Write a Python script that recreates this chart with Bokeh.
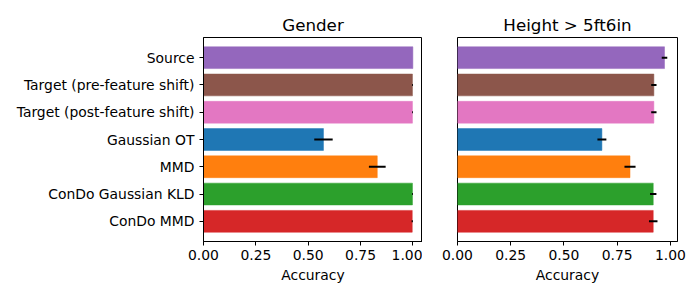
from bokeh.plotting import figure
from bokeh.layouts import row
from bokeh.models import FactorRange, FixedTicker, NumeralTickFormatter, Range1d, ColumnDataSource
from bokeh.embed import file_html
from bokeh.resources import INLINE

methods = ["Source", "Target (pre-feature shift)", "Target (post-feature shift)",
           "Gaussian OT", "MMD", "ConDo Gaussian KLD", "ConDo MMD"]
colors = ["#9467bd", "#8c564b", "#e377c2", "#1f77b4", "#ff7f0e", "#2ca02c", "#d62728"]

gender_acc = [1.0, 0.998, 0.998, 0.573, 0.83, 0.998, 0.997]
gender_err = [0.0, 0.002, 0.002, 0.044, 0.04, 0.002, 0.003]

height_acc = [0.972, 0.922, 0.922, 0.678, 0.81, 0.919, 0.919]
height_err = [0.013, 0.0125, 0.0125, 0.021, 0.026, 0.015, 0.02]

titles = ["Gender", "Height > 5ft6in"]
xmaxes = [1.046, 1.033]
ticks = [0.0, 0.25, 0.5, 0.75, 1.0]

FONT = "DejaVu Sans"

def make(title, acc, err, xmax, show_y, ml, mr):
    src = ColumnDataSource(dict(m=methods, acc=acc, c=colors,
                                lo=[a - e for a, e in zip(acc, err)],
                                hi=[a + e for a, e in zip(acc, err)]))
    yr = FactorRange(*list(reversed(methods)), range_padding=0.48 / 7)
    p = figure(y_range=yr, x_range=Range1d(0, xmax), frame_width=219 if show_y else 220,
               frame_height=204, output_backend="svg", toolbar_location=None,
               min_border_left=ml, min_border_right=mr, min_border_top=37, min_border_bottom=50)
    p.hbar(y="m", right="acc", left=0, height=0.8, fill_color="c", line_color="c", line_width=0.5, source=src)
    p.segment(x0="lo", y0="m", x1="hi", y1="m", line_color="black", line_width=2, source=src)
    p.title.text = title
    p.title.align = "center"
    p.title.text_font = FONT
    p.title.text_font_size = "16.7px"
    p.title.text_font_style = "normal"
    p.title.text_color = "black"
    p.title.standoff = 6
    p.xgrid.visible = False
    p.ygrid.visible = False
    p.outline_line_color = "black"
    p.outline_line_width = 1
    p.outline_line_alpha = 1
    xa = p.xaxis[0]
    xa.ticker = FixedTicker(ticks=ticks)
    xa.formatter = NumeralTickFormatter(format="0.00")
    xa.axis_label = "Accuracy"
    xa.axis_label_text_font = FONT
    xa.axis_label_text_font_size = "13.9px"
    xa.axis_label_text_font_style = "normal"
    xa.axis_label_text_color = "black"
    xa.axis_label_standoff = 4
    xa.major_label_text_font = FONT
    xa.major_label_text_font_size = "13.9px"
    xa.major_label_text_color = "black"
    xa.major_label_standoff = 4
    xa.major_tick_out = 4
    xa.major_tick_in = 0
    xa.minor_tick_out = 0
    xa.minor_tick_in = 0
    xa.axis_line_color = "black"
    xa.major_tick_line_color = "black"
    ya = p.yaxis[0]
    if show_y:
        ya.major_label_text_font = FONT
        ya.major_label_text_font_size = "13.9px"
        ya.major_label_text_color = "black"
        ya.major_label_standoff = 5
        ya.major_tick_out = 4
        ya.major_tick_in = 0
        ya.axis_line_color = "black"
        ya.major_tick_line_color = "black"
    else:
        ya.visible = False
    return p

p1 = make(titles[0], gender_acc, gender_err, xmaxes[0], True, 203, 0)
p2 = make(titles[1], height_acc, height_err, xmaxes[1], False, 35, 15)
layout = row(p1, p2)
open("out.html", "w").write(file_html(layout, INLINE))
